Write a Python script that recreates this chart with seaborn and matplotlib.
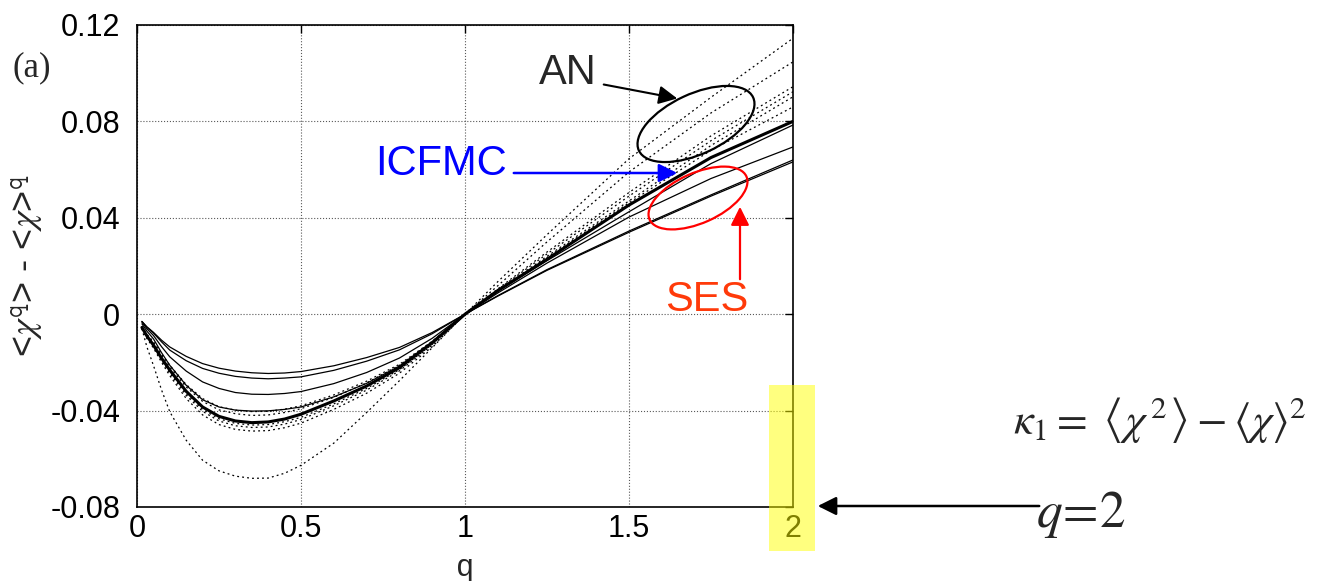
import numpy as np
import pandas as pd
import matplotlib
matplotlib.use("Agg")
from matplotlib import pyplot as plt
from matplotlib.patches import Ellipse, Rectangle
import seaborn as sns

# q grid and curves
q = [0.015, 0.03, 0.05, 0.075, 0.1, 0.15, 0.2, 0.25, 0.3, 0.35, 0.4, 0.45, 0.5,
     0.6, 0.7, 0.8, 0.9, 1.0, 1.1, 1.25, 1.5, 1.75, 2.0]

icfmc = [-0.0055, -0.0090, -0.0128, -0.0183, -0.0232, -0.0320, -0.0385, -0.0424, -0.0443, -0.0450, -0.0447, -0.0435, -0.0415,
         -0.0360, -0.0298, -0.0222, -0.0118, 0.0, 0.0098, 0.0228, 0.0453, 0.0650, 0.0800]

ses_1 = [-0.0030, -0.0052, -0.0075, -0.0108, -0.0136, -0.0175, -0.0205, -0.0224, -0.0236, -0.0243, -0.0246, -0.0244, -0.0238,
         -0.0214, -0.0180, -0.0138, -0.0076, 0.0, 0.0075, 0.0182, 0.0340, 0.0490, 0.0632]
ses_2 = [-0.0030, -0.0054, -0.0078, -0.0115, -0.0149, -0.0193, -0.0225, -0.0245, -0.0258, -0.0265, -0.0268, -0.0265, -0.0260,
         -0.0233, -0.0195, -0.0148, -0.0081, 0.0, 0.0077, 0.0185, 0.0345, 0.0495, 0.0640]
ses_3 = [-0.0033, -0.0060, -0.0088, -0.0135, -0.0177, -0.0236, -0.0281, -0.0308, -0.0325, -0.0332, -0.0333, -0.0329, -0.0321,
         -0.0288, -0.0242, -0.0182, -0.0100, 0.0, 0.0088, 0.0212, 0.0403, 0.0563, 0.0694]
ses_4 = [-0.0040, -0.0070, -0.0102, -0.0160, -0.0212, -0.0295, -0.0355, -0.0385, -0.0398, -0.0402, -0.0401, -0.0395, -0.0385,
         -0.0343, -0.0287, -0.0215, -0.0116, 0.0, 0.0095, 0.0222, 0.0425, 0.0625, 0.0785]

an_1 = [-0.0060, -0.0135, -0.0212, -0.0315, -0.0405, -0.0523, -0.0606, -0.0650, -0.0672, -0.0681, -0.0680, -0.0660, -0.0627,
        -0.0535, -0.0408, -0.0276, -0.0139, 0.0, 0.0135, 0.0330, 0.0645, 0.0900, 0.1145]
an_2 = [-0.0060, -0.0100, -0.0140, -0.0200, -0.0255, -0.0350, -0.0418, -0.0458, -0.0478, -0.0485, -0.0483, -0.0471, -0.0452,
        -0.0395, -0.0328, -0.0245, -0.0135, 0.0, 0.0118, 0.0300, 0.0590, 0.0835, 0.1047]
an_3 = [-0.0058, -0.0097, -0.0135, -0.0192, -0.0245, -0.0337, -0.0403, -0.0443, -0.0463, -0.0470, -0.0468, -0.0456, -0.0437,
        -0.0380, -0.0315, -0.0235, -0.0128, 0.0, 0.0105, 0.0258, 0.0505, 0.0740, 0.0944]
an_4 = [-0.0057, -0.0095, -0.0132, -0.0188, -0.0240, -0.0330, -0.0395, -0.0434, -0.0453, -0.0460, -0.0458, -0.0446, -0.0428,
        -0.0372, -0.0308, -0.0230, -0.0125, 0.0, 0.0102, 0.0250, 0.0490, 0.0720, 0.0923]
an_5 = [-0.0052, -0.0087, -0.0120, -0.0172, -0.0220, -0.0302, -0.0362, -0.0397, -0.0413, -0.0420, -0.0418, -0.0408, -0.0392,
        -0.0345, -0.0285, -0.0212, -0.0115, 0.0, 0.0098, 0.0240, 0.0470, 0.0700, 0.0902]
an_6 = [-0.0050, -0.0083, -0.0114, -0.0165, -0.0212, -0.0292, -0.0350, -0.0384, -0.0398, -0.0404, -0.0403, -0.0394, -0.0380,
        -0.0335, -0.0278, -0.0208, -0.0112, 0.0, 0.0096, 0.0235, 0.0462, 0.0680, 0.0860]

xticks = [0, 0.5, 1, 1.5, 2]
xticklabels = ["0", "0.5", "1", "1.5", "2"]
yticks = [-0.08, -0.04, 0, 0.04, 0.08, 0.12]
yticklabels = ["-0.08", "-0.04", "0", "0.04", "0.08", "0.12"]

sns.set_theme(style="white")
plt.rcParams["font.family"] = ["Liberation Sans", "DejaVu Sans"]
plt.rcParams["mathtext.fontset"] = "stix"

W, H = 1339, 581
fig = plt.figure(figsize=(W / 100, H / 100), dpi=100)
ax = fig.add_axes([137 / W, 1 - 507 / H, (793 - 137) / W, (507 - 25) / H])

for y in [an_1, an_2, an_3, an_4, an_5, an_6]:
    sns.lineplot(x=q, y=y, ax=ax, color="black", lw=0.9, linestyle=(0, (1.5, 2.5)))
for y in [ses_1, ses_2, ses_3, ses_4]:
    sns.lineplot(x=q, y=y, ax=ax, color="black", lw=0.9)
sns.lineplot(x=q, y=icfmc, ax=ax, color="black", lw=2.2)

ax.set_xlim(0, 2)
ax.set_ylim(-0.08, 0.12)
ax.set_xticks(xticks)
ax.set_xticklabels(xticklabels)
ax.set_yticks(yticks)
ax.set_yticklabels(yticklabels)
ax.grid(True, color="0.35", linestyle=":", lw=0.8)
ax.tick_params(direction="in", length=6, width=1, top=True, right=True,
               labelsize=22, colors="black")
ax.tick_params(axis="y", pad=12)
ax.tick_params(axis="x", pad=5)
for s in ax.spines.values():
    s.set_color("black")
    s.set_linewidth(1.2)

ax.set_xlabel("q", family="Liberation Mono", fontsize=22)
ax.xaxis.set_label_coords(0.5, -0.095)
ax.set_ylabel(r"<$\chi^{\mathtt{q}}$> - <$\chi$>$^{\mathtt{q}}$", fontsize=26)
ax.yaxis.set_label_coords(-0.14, 0.5)


def fp(x, y):
    # pixel position from the top-left -> figure pixels
    return (x, H - y)


def inch(x, y):
    return (x / 100, (H - y) / 100)


fig.text(32 / W, 1 - 68 / H, "(a)", family="Liberation Serif", fontsize=25,
         ha="center", va="center")

# AN
fig.text(568 / W, 1 - 73 / H, "AN", fontsize=30, ha="center", va="center")
ax.annotate("", xy=fp(680, 99), xytext=fp(601, 84), xycoords="figure pixels",
            textcoords="figure pixels",
            arrowprops=dict(arrowstyle="-|>", color="black", lw=1.5, mutation_scale=28))
fig.add_artist(Ellipse(inch(696, 124), 1.26, 0.6, angle=25, fill=False,
                       edgecolor="black", lw=1.6, transform=fig.dpi_scale_trans))

# ICFMC
fig.text(441 / W, 1 - 164 / H, "ICFMC", fontsize=30, color="#0000ff",
         ha="center", va="center")
ax.annotate("", xy=fp(680, 173), xytext=fp(511, 173), xycoords="figure pixels",
            textcoords="figure pixels",
            arrowprops=dict(arrowstyle="-|>", color="#0000ff", lw=1.8, mutation_scale=28))

# SES
fig.text(707 / W, 1 - 300 / H, "SES", fontsize=30, color="#ff3a0a",
         ha="center", va="center")
ax.annotate("", xy=fp(740, 204), xytext=fp(740, 282), xycoords="figure pixels",
            textcoords="figure pixels",
            arrowprops=dict(arrowstyle="-|>", color="red", lw=1.6, mutation_scale=28))
fig.add_artist(Ellipse(inch(698, 198), 1.06, 0.5, angle=24, fill=False,
                       edgecolor="red", lw=1.6, transform=fig.dpi_scale_trans))

# q=2 note
ax.annotate("", xy=fp(815, 506), xytext=fp(1042, 506), xycoords="figure pixels",
            textcoords="figure pixels",
            arrowprops=dict(arrowstyle="-|>", color="black", lw=1.8, mutation_scale=28))
fig.text(1036 / W, 1 - 527 / H, r"$q\!=\!2$", fontsize=37, ha="left", va="baseline")
fig.text(1013 / W, 1 - 420 / H,
         r"$\kappa_1 =\; \left\langle \chi^{\,2} \right\rangle - \left\langle \chi \right\rangle^{2}$",
         fontsize=32, ha="left", va="center")

fig.add_artist(Rectangle(inch(769, 551), 0.46, 1.66, facecolor="yellow", alpha=0.5,
                         edgecolor="none", transform=fig.dpi_scale_trans, zorder=10))

fig.savefig("out.png", dpi=100)
